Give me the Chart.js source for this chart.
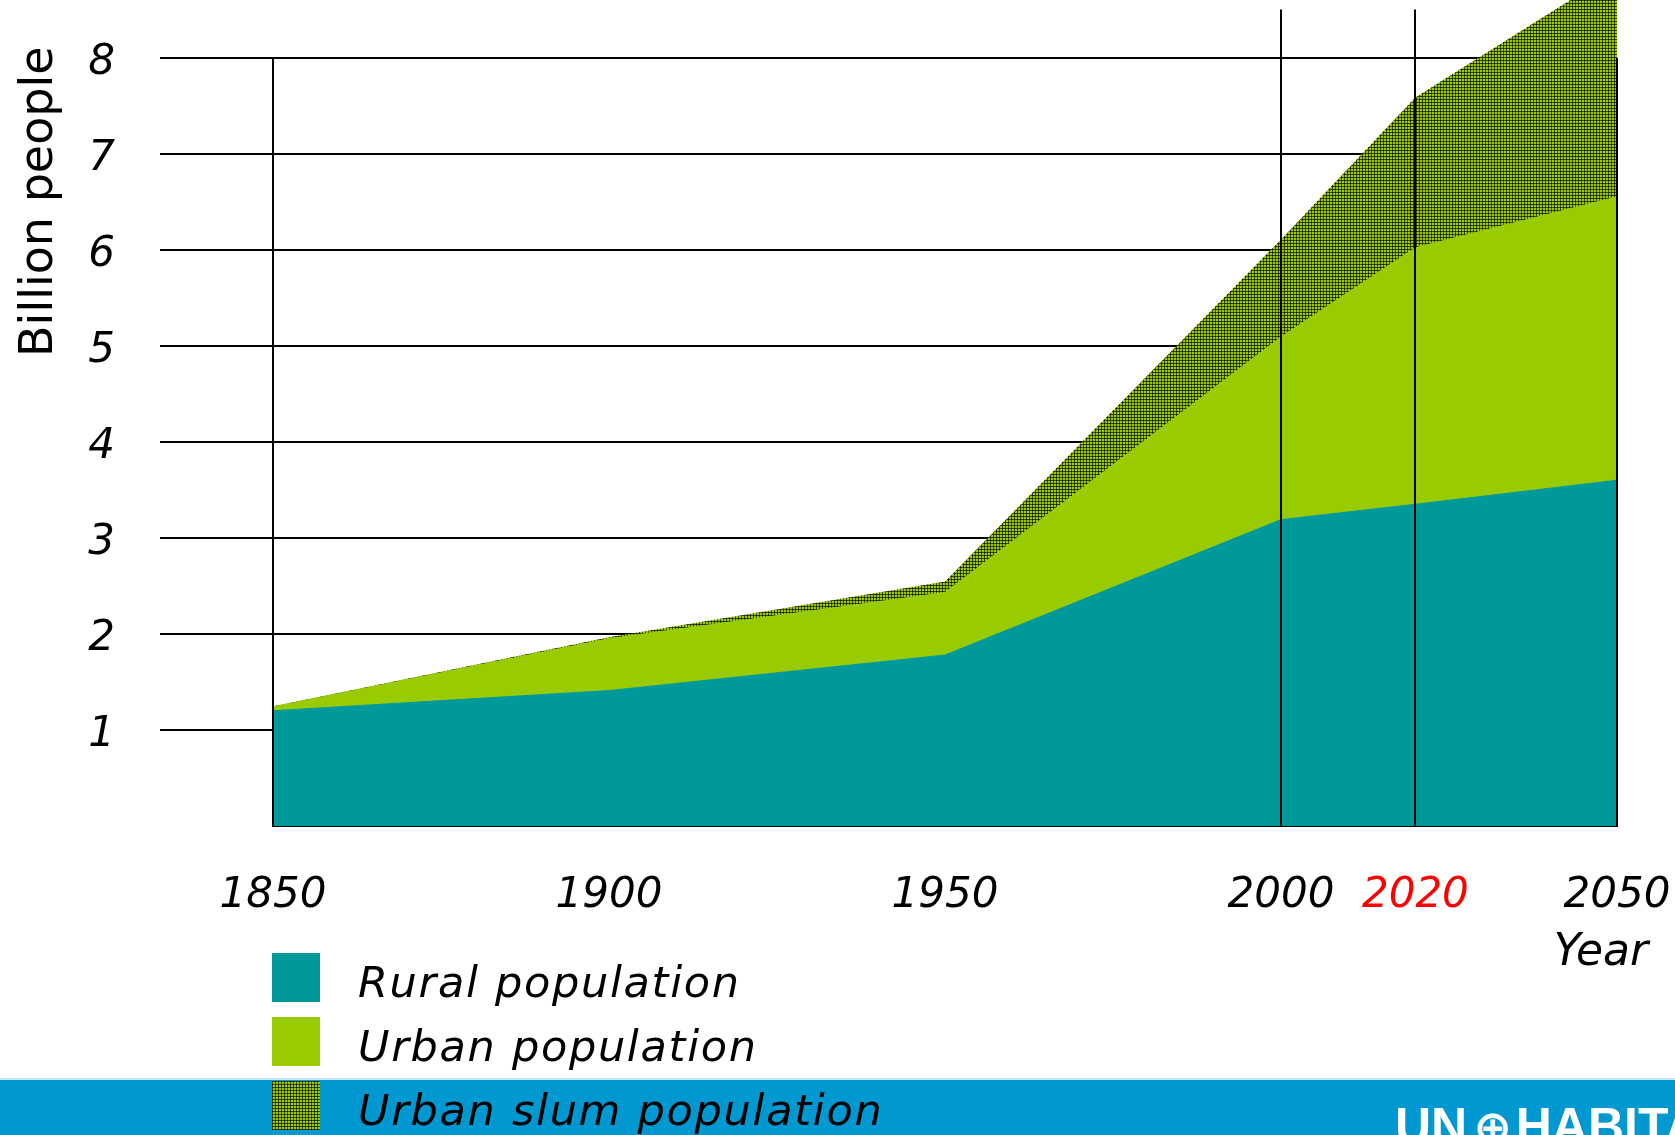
<!DOCTYPE html>
<html>
<head>
<meta charset="utf-8">
<script src="https://cdn.jsdelivr.net/npm/chart.js@4.4.1/dist/chart.umd.min.js"></script>
<style>
  body { margin: 0; background: #fff; }
  #page { position: relative; width: 1675px; height: 1135px; overflow: hidden; font-family: "DejaVu Sans"; }
  #band { position: absolute; left: 0; top: 1078px; width: 1675px; height: 57px; background: #0098d0; border-top: 2px solid #c4e6f5; box-sizing: border-box; }
  #logo { position: absolute; left: 1395px; top: 1097px; line-height: 50px; color: #fff; font: bold 50px "Liberation Sans"; white-space: nowrap; }
  #logo .em { font: bold 46px "DejaVu Sans"; margin: 0 4px 0 6px; }
  #chart { position: absolute; left: 0; top: 0; }
  #legend { position: absolute; left: 272px; top: 953px; }
  .item { display: flex; align-items: flex-start; height: 49px; margin-bottom: 15px; }
  .item canvas { display: block; width: 48px; height: 49px; }
  .item span { margin-left: 38px; font-style: italic; font-size: 43px; letter-spacing: 1.7px; line-height: 49px; position: relative; top: 5px; color: #000; white-space: nowrap; }
</style>
</head>
<body>
<div id="page">
  <div id="band"></div>
  <div id="logo">UN<span class="em">⊕</span>HABITAT</div>
  <canvas id="chart" width="1675" height="1135"></canvas>
  <div id="legend"></div>
</div>
<script>
const years = [1850, 1900, 1950, 2000, 2020, 2050];
const rural = [1.20, 1.41, 1.78, 3.19, 3.35, 3.60];
const urban = [0.04, 0.54, 0.65, 1.90, 2.67, 2.95];
const slum  = [0.00, 0.01, 0.11, 1.01, 1.56, 2.35];

const seriesNames = ["Rural population", "Urban population", "Urban slum population"];
const xTicks = [1850, 1900, 1950, 2000, 2020, 2050];
const yTicks = [1, 2, 3, 4, 5, 6, 7, 8];
const yTitle = "Billion people";
const xTitle = "Year";

Chart.defaults.font.family = "DejaVu Sans";

/* dotted fill for the slum band */
function stipple(ctx){
  const c = document.createElement("canvas");
  c.width = 3; c.height = 3;
  const g = c.getContext("2d");
  g.fillStyle = "#99cc00"; g.fillRect(0, 0, 3, 3);
  g.fillStyle = "#384c00"; g.fillRect(0, 0, 3, 1); g.fillRect(0, 0, 1, 3);
  g.fillStyle = "#0a1000"; g.fillRect(0, 0, 1, 1);
  return ctx.createPattern(c, "repeat");
}

function fills(ctx){
  return ["#009999", "#99cc00", stipple(ctx)];
}

const pts = vals => years.map((x, i) => ({x: x, y: vals[i]}));

// keep the plot box fixed, labels may hang over
function noPad(s){
  s.paddingLeft = 0; s.paddingRight = 0;
  s.paddingTop = 0; s.paddingBottom = 0;
}

/* frame lines and axis titles */
const frame = {
  id: "frame",
  afterDraw(chart, args, opts){
    const {ctx, chartArea} = chart;
    const x = chart.scales.x, y = chart.scales.y;
    ctx.save();
    ctx.strokeStyle = "#000";
    ctx.lineWidth = 2;
    opts.lines.forEach(l => {
      const px = Math.round(x.getPixelForValue(l.year));
      ctx.beginPath();
      ctx.moveTo(px, y.getPixelForValue(l.from));
      ctx.lineTo(px, y.getPixelForValue(0) + 1);
      ctx.stroke();
    });

    ctx.fillStyle = "#000";
    ctx.font = '46px "DejaVu Sans"';
    ctx.textAlign = "center";
    ctx.textBaseline = "alphabetic";
    ctx.save();
    ctx.translate(52, y.getPixelForValue(opts.yTitleAt));
    ctx.rotate(-Math.PI / 2);
    ctx.fillText(yTitle, 0, 0);
    ctx.restore();

    ctx.font = 'italic 44px "DejaVu Sans"';
    ctx.textAlign = "right";
    ctx.fillText(xTitle, chartArea.right + 31, chartArea.bottom + 139);
    ctx.restore();
  }
};

const canvas = document.getElementById("chart");
const colors = fills(canvas.getContext("2d"));

const chart = new Chart(canvas, {
  type: "line",
  data: {
    datasets: [
      {label: seriesNames[0], data: pts(rural), backgroundColor: colors[0], borderColor: colors[0], fill: "origin"},
      {label: seriesNames[1], data: pts(urban), backgroundColor: colors[1], borderColor: colors[1], fill: "-1"},
      {label: seriesNames[2], data: pts(slum), backgroundColor: colors[2], borderColor: colors[2], fill: "-1"}
    ]
  },
  options: {
    responsive: false,
    animation: false,
    devicePixelRatio: 1,
    layout: {padding: {left: 0, right: 58, top: 0, bottom: 0}},
    elements: {
      line: {borderWidth: 1, tension: 0},
      point: {radius: 0}
    },
    scales: {
      x: {
        type: "linear",
        min: 1850,
        max: 2050,
        z: 1,
        afterBuildTicks: s => { s.ticks = xTicks.map(v => ({value: v})); },
        afterFit: s => { s.height = 309; noPad(s); },
        grid: {display: false, drawTicks: false},
        border: {display: true, color: "#000", width: 2},
        ticks: {
          font: {size: 42, style: "italic"},
          color: c => c.tick && c.tick.value === 2020 ? "#ff0000" : "#000",
          padding: 45,
          maxRotation: 0,
          autoSkip: false,
          callback: v => String(v)
        }
      },
      y: {
        stacked: true,
        min: 0,
        max: 8.6,
        z: 1,
        afterBuildTicks: s => { s.ticks = yTicks.map(v => ({value: v})); },
        afterFit: s => { s.width = 273; noPad(s); },
        grid: {color: "#000", lineWidth: 2, drawTicks: true, tickLength: 113},
        border: {display: false},
        ticks: {font: {size: 42, style: "italic"}, color: "#000", padding: 45, labelOffset: 5}
      }
    },
    plugins: {
      legend: {display: false},
      tooltip: {enabled: false},
      frame: {
        yTitleAt: 6.5,
        lines: [
          {year: 1850, from: 8},
          {year: 2000, from: 8.5},
          {year: 2020, from: 8.5},
          {year: 2050, from: 8}
        ]
      }
    }
  },
  plugins: [frame]
});

/* legend list under the chart */
const legendEl = document.getElementById("legend");
chart.data.datasets.forEach((ds, i) => {
  const row = document.createElement("div");
  row.className = "item";
  const sw = document.createElement("canvas");
  sw.width = 48; sw.height = 49;
  const sctx = sw.getContext("2d");
  sctx.fillStyle = fills(sctx)[i];
  sctx.fillRect(0, 0, 48, 49);
  const txt = document.createElement("span");
  txt.textContent = ds.label;
  row.appendChild(sw);
  row.appendChild(txt);
  legendEl.appendChild(row);
});
</script>
</body>
</html>
